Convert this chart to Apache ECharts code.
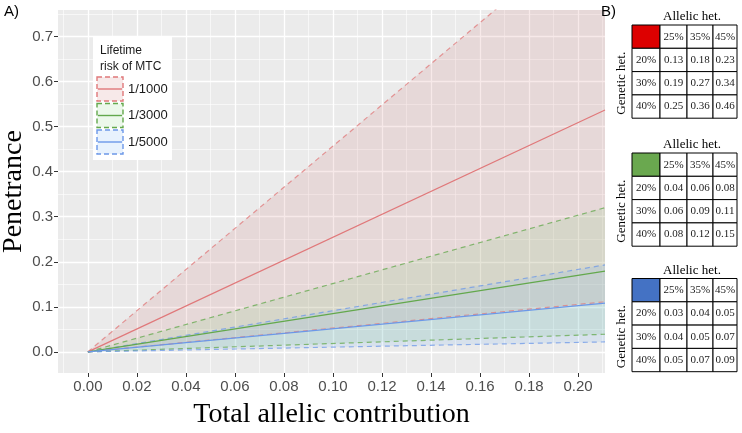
<!DOCTYPE html>
<html>
<head>
<meta charset="utf-8">
<script src="https://cdn.jsdelivr.net/npm/echarts@6/dist/echarts.min.js"></script>
<style>
  html, body { margin: 0; padding: 0; background: #fff; }
  #chart { width: 742px; height: 433px; }
</style>
</head>
<body>
<div id="chart"></div>
<script>
// ---- data ----
const riskGroups = ['1/1000', '1/3000', '1/5000']
const xEnds = [0, 0.211]
const lower1000 = [0, 0.111]
const mid1000 = [0, 0.537]
const upper1000 = [0, 0.964]
const lower3000 = [0, 0.039]
const mid3000 = [0, 0.179]
const upper3000 = [0, 0.320]
const lower5000 = [0, 0.022]
const mid5000 = [0, 0.108]
const upper5000 = [0, 0.193]

const xTicks = [0, 0.02, 0.04, 0.06, 0.08, 0.10, 0.12, 0.14, 0.16, 0.18, 0.20]
const xMinorTicks = [-0.01, 0.01, 0.03, 0.05, 0.07, 0.09, 0.11, 0.13, 0.15, 0.17, 0.19, 0.21]
const yTicks = [0, 0.1, 0.2, 0.3, 0.4, 0.5, 0.6, 0.7]
const yMinorTicks = [0.05, 0.15, 0.25, 0.35, 0.45, 0.55, 0.65, 0.75]

// panel B tables
const allelicHet = ['25%', '35%', '45%']
const geneticHet = ['20%', '30%', '40%']
const table1000 = [[0.13, 0.18, 0.23], [0.19, 0.27, 0.34], [0.25, 0.36, 0.46]]
const table3000 = [[0.04, 0.06, 0.08], [0.06, 0.09, 0.11], [0.08, 0.12, 0.15]]
const table5000 = [[0.03, 0.04, 0.05], [0.04, 0.05, 0.07], [0.05, 0.07, 0.09]]

// ---- styles ----
const groupStyles = [
  { line: '#E0787A', fill: 'rgba(200,110,110,0.15)', cell: '#DD0000' },
  { line: '#63A84C', fill: 'rgba(110,200,100,0.13)', cell: '#6AA84F' },
  { line: '#6C98E8', fill: 'rgba(100,170,240,0.15)', cell: '#4472C4' }
]
const bands = [
  { lower: lower1000, mid: mid1000, upper: upper1000 },
  { lower: lower3000, mid: mid3000, upper: upper3000 },
  { lower: lower5000, mid: mid5000, upper: upper5000 }
]
const tables = [table1000, table3000, table5000]

const zipX = ys => xEnds.map((x, i) => [x, ys[i]])

const series = []
// ribbons first (polygon between lower and upper, through the axis scales)
bands.forEach((b, i) => {
  series.push({
    type: 'custom', clip: true, silent: true, z: 2,
    data: [[xEnds[0], b.lower[0]]],
    renderItem: (params, api) => {
      const top = xEnds.map((x, k) => api.coord([x, b.upper[k]]))
      const bottom = xEnds.map((x, k) => api.coord([x, b.lower[k]])).reverse()
      return { type: 'polygon', shape: { points: top.concat(bottom) }, style: { fill: groupStyles[i].fill } }
    }
  })
})
// then the lines
bands.forEach((b, i) => {
  const c = groupStyles[i].line
  series.push({ type: 'line', name: riskGroups[i], data: zipX(b.mid), symbol: 'none', z: 4,
    lineStyle: { color: c, width: 1.2 } })
  series.push({ type: 'line', data: zipX(b.upper), symbol: 'none', z: 3,
    lineStyle: { color: c, width: 1.2, type: [5, 4], opacity: 0.75 } })
  series.push({ type: 'line', data: zipX(b.lower), symbol: 'none', z: 3,
    lineStyle: { color: c, width: 1.2, type: [5, 4], opacity: 0.75 } })
})

// ---- graphic: panel letters, legend, tables ----
const graphics = []
const sans = '"Liberation Sans", Arial, sans-serif'
const serif = '"Liberation Serif", "Times New Roman", serif'

graphics.push({ type: 'text', x: 4, y: 4, style: { text: 'A)', font: '15px ' + sans, fill: '#000' } })
graphics.push({ type: 'text', x: 601, y: 4, style: { text: 'B)', font: '15px ' + sans, fill: '#000' } })

// legend
graphics.push({ type: 'rect', shape: { x: 93, y: 37, width: 79, height: 123 }, style: { fill: '#fff' } })
graphics.push({ type: 'text', x: 100, y: 43, style: { text: 'Lifetime\nrisk of MTC', font: '12px ' + sans, lineHeight: 16, fill: '#1a1a1a' } })
riskGroups.forEach((name, i) => {
  const y0 = 77 + i * 26.5
  const s = groupStyles[i]
  graphics.push({ type: 'rect', shape: { x: 97, y: y0, width: 26, height: 24 },
    style: { fill: s.fill, stroke: s.line, lineWidth: 1.4, lineDash: [5, 3] } })
  graphics.push({ type: 'line', shape: { x1: 98, y1: y0 + 12, x2: 122, y2: y0 + 12 },
    style: { stroke: s.line, lineWidth: 1.4 } })
  graphics.push({ type: 'text', x: 128, y: y0 + 12,
    style: { text: name, font: '13px ' + sans, fill: '#1a1a1a', verticalAlign: 'middle', textVerticalAlign: 'middle' } })
})

// tables
const colEdges = [632, 660, 687, 713, 737]
const rowH = 23.3
const tableTops = [25, 153, 278.5]
tables.forEach((tbl, t) => {
  const top = tableTops[t]
  graphics.push({ type: 'text', x: 692, y: top - 8,
    style: { text: 'Allelic het.', font: '13px ' + serif, fill: '#000', align: 'center', textAlign: 'center', verticalAlign: 'middle', textVerticalAlign: 'middle' } })
  graphics.push({ type: 'text', x: 622, y: top + rowH + rowH * 1.5, rotation: Math.PI / 2,
    style: { text: 'Genetic het.', font: '13px ' + serif, fill: '#000', align: 'center', textAlign: 'center', verticalAlign: 'middle', textVerticalAlign: 'middle' } })
  for (let r = 0; r < 4; r++) {
    for (let c = 0; c < 4; c++) {
      const x = colEdges[c]
      const y = top + r * rowH
      const w = colEdges[c + 1] - colEdges[c]
      graphics.push({ type: 'rect', shape: { x: x, y: y, width: w, height: rowH },
        style: { fill: (r === 0 && c === 0) ? groupStyles[t].cell : '#fff', stroke: '#000', lineWidth: 1 } })
      let label = ''
      if (r === 0 && c > 0) label = allelicHet[c - 1]
      else if (c === 0 && r > 0) label = geneticHet[r - 1]
      else if (r > 0 && c > 0) label = tbl[r - 1][c - 1].toFixed(2)
      if (label) {
        graphics.push({ type: 'text', x: x + w / 2, y: y + rowH / 2,
          style: { text: label, font: '11px ' + serif, fill: '#222', align: 'center', textAlign: 'center', verticalAlign: 'middle', textVerticalAlign: 'middle' } })
      }
    }
  }
})

const axisLabelStyle = { color: '#4D4D4D', fontSize: 15, fontFamily: sans }

const option = {
  animation: false,
  backgroundColor: '#fff',
  grid: {
    left: 58, right: 137, top: 10, bottom: 60,
    outerBoundsMode: 'none', containLabel: false,
    show: true, backgroundColor: '#EBEBEB', borderWidth: 0
  },
  xAxis: [
    {
      type: 'value', min: -0.0122, max: 0.211,
      name: 'Total allelic contribution', nameLocation: 'middle', nameGap: 28,
      nameMoveOverlap: false,
      nameTextStyle: { fontFamily: serif, fontSize: 28, color: '#000' },
      axisLine: { show: false, onZero: false },
      axisTick: { show: true, length: 4, customValues: xTicks, lineStyle: { color: '#333' } },
      axisLabel: { ...axisLabelStyle, margin: 6, customValues: xTicks, formatter: v => v.toFixed(2) },
      splitLine: { show: true, lineStyle: { color: '#fff', width: 1.3 } }
    },
    {
      type: 'value', min: -0.0122, max: 0.211, position: 'top',
      axisLine: { show: false, onZero: false }, axisLabel: { show: false },
      axisTick: { show: false, customValues: xMinorTicks },
      splitLine: { show: true, lineStyle: { color: '#fff', width: 0.6 } }
    }
  ],
  yAxis: [
    {
      type: 'value', min: -0.047, max: 0.759,
      name: 'Penetrance', nameLocation: 'middle', nameGap: 30,
      nameMoveOverlap: false,
      nameTextStyle: { fontFamily: serif, fontSize: 28, color: '#000' },
      axisLine: { show: false, onZero: false },
      axisTick: { show: true, length: 4, customValues: yTicks, lineStyle: { color: '#333' } },
      axisLabel: { ...axisLabelStyle, margin: 5, customValues: yTicks, formatter: v => v.toFixed(1) },
      splitLine: { show: true, lineStyle: { color: '#fff', width: 1.3 } }
    },
    {
      type: 'value', min: -0.047, max: 0.759, position: 'right',
      axisLine: { show: false, onZero: false }, axisLabel: { show: false },
      axisTick: { show: false, customValues: yMinorTicks },
      splitLine: { show: true, lineStyle: { color: '#fff', width: 0.6 } }
    }
  ],
  series: series,
  graphic: { elements: graphics.map(g => Object.assign({ z: 100 }, g)) }
}

const chart = echarts.init(document.getElementById('chart'), null, { renderer: 'canvas' })
chart.setOption(option)
</script>
</body>
</html>
